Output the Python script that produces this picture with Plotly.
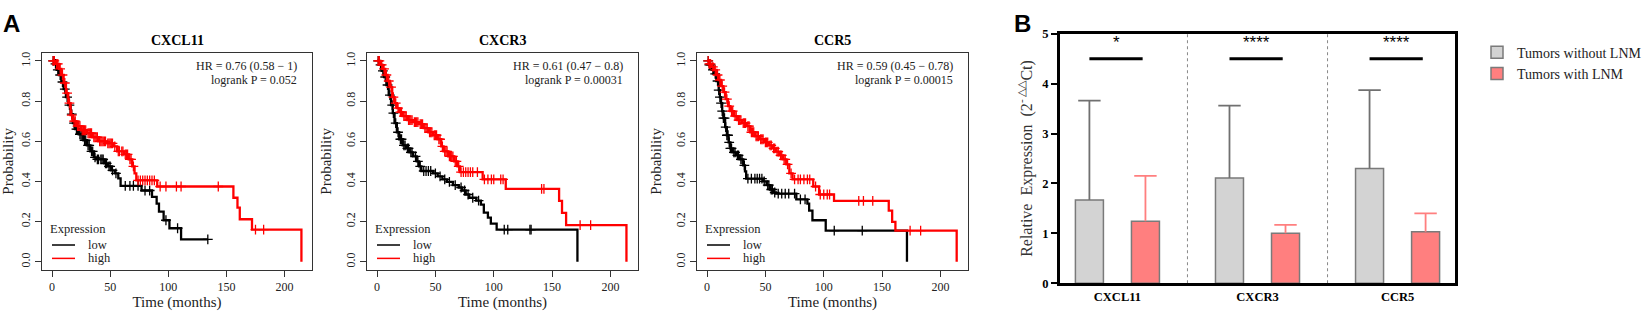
import numpy as np
import plotly.graph_objects as go

W, H = 1648, 317

# ---------------- Panel A data (Kaplan-Meier curves) ----------------
cxcl11_low_t = [0, 2, 4, 6, 8, 10, 12, 14, 16, 18, 20, 23, 27, 30, 33, 36, 38, 45, 48, 51, 54, 57, 59, 77, 86, 90, 92, 96, 101, 111, 134]
cxcl11_low_s = [1, 0.985, 0.955, 0.93, 0.895, 0.86, 0.82, 0.78, 0.735, 0.69, 0.66, 0.635, 0.605, 0.58, 0.55, 0.52, 0.51, 0.49, 0.475, 0.455, 0.44, 0.415, 0.378, 0.355, 0.323, 0.29, 0.25, 0.207, 0.167, 0.112, 0.112]
cxcl11_low_cens = [1, 3, 5, 7, 9, 11, 13, 15, 17, 19, 21, 22, 24, 25, 26, 28, 29, 31, 32, 34, 35, 37, 39, 40, 42, 43, 44, 46, 47, 49, 50, 52, 55, 63, 67, 70, 74, 80, 84, 98, 108, 134]
cxcl11_high_t = [0, 3, 6, 8, 10, 12, 14, 16, 18, 21, 25, 30, 35, 40, 47, 53, 56, 62, 66, 69, 71, 72.5, 90.5, 156, 159.5, 161.5, 172, 214.5]
cxcl11_high_s = [1, 0.985, 0.96, 0.93, 0.89, 0.84, 0.79, 0.73, 0.70, 0.675, 0.655, 0.64, 0.62, 0.60, 0.59, 0.575, 0.55, 0.535, 0.51, 0.475, 0.44, 0.405, 0.375, 0.319, 0.27, 0.212, 0.16, 0]
cxcl11_high_cens = [1, 2, 4, 5, 7, 9, 11, 13, 15, 17, 19, 20, 22, 23, 24, 26, 27, 28, 29, 31, 32, 33, 34, 36, 37, 38, 39, 41, 42, 43, 44, 45, 46, 48, 49, 50, 51, 52, 54, 57, 58, 60, 61, 63, 64, 65, 67, 68, 70, 74, 76, 78, 80, 82, 84, 86, 88, 93, 98, 107, 111, 143, 175, 182]

cxcr3_low_t = [0, 2, 4, 6, 8, 10, 12, 13.5, 15, 17, 19, 22, 25, 28, 31, 34, 36, 38, 48, 52, 56, 60, 65, 70, 73, 76, 79, 85, 89, 91.5, 95, 97.5, 102.5, 171.7]
cxcr3_low_s = [1, 0.98, 0.95, 0.92, 0.88, 0.83, 0.78, 0.74, 0.69, 0.645, 0.61, 0.58, 0.565, 0.545, 0.525, 0.50, 0.475, 0.452, 0.44, 0.425, 0.41, 0.398, 0.382, 0.37, 0.355, 0.335, 0.319, 0.305, 0.285, 0.245, 0.22, 0.19, 0.16, 0]
cxcr3_low_cens = [1, 3, 5, 7, 9, 11, 13, 14, 16, 18, 20, 21, 23, 24, 26, 27, 29, 30, 33, 35, 37, 40, 42, 44, 46, 50, 54, 58, 62, 67, 72, 75, 78, 82, 87, 109, 112, 131, 132]
cxcr3_high_t = [0, 3, 5, 7, 9, 11, 13, 15, 17, 19, 22, 26, 31, 36, 40, 44, 48, 52, 55, 57, 61, 66, 69, 71, 90.5, 110.3, 156, 158.5, 162, 213.7]
cxcr3_high_s = [1, 0.98, 0.96, 0.93, 0.90, 0.87, 0.82, 0.79, 0.765, 0.745, 0.725, 0.705, 0.695, 0.685, 0.665, 0.645, 0.63, 0.61, 0.575, 0.55, 0.525, 0.50, 0.475, 0.446, 0.41, 0.363, 0.303, 0.244, 0.183, 0]
cxcr3_high_cens = [1, 2, 4, 6, 8, 10, 12, 14, 16, 18, 20, 21, 23, 24, 25, 27, 28, 29, 30, 32, 33, 34, 35, 37, 38, 39, 41, 42, 43, 45, 46, 47, 49, 50, 51, 53, 54, 56, 58, 59, 60, 62, 63, 64, 65, 67, 68, 70, 72, 74, 76, 78, 80, 82, 86, 92, 95, 98, 100, 106, 108, 141, 143, 174, 183]

ccr5_low_t = [0, 2, 4, 6, 8, 10, 11, 12, 13, 14, 15.5, 17, 18.5, 20, 22, 25, 28, 31, 32.5, 33.5, 48, 51, 54, 57, 59, 76.5, 86, 87.5, 90.3, 101.7, 171.3]
ccr5_low_s = [1, 0.98, 0.955, 0.935, 0.90, 0.855, 0.82, 0.79, 0.75, 0.715, 0.67, 0.63, 0.595, 0.565, 0.545, 0.53, 0.51, 0.48, 0.45, 0.414, 0.40, 0.382, 0.36, 0.345, 0.339, 0.311, 0.29, 0.255, 0.207, 0.155, 0]
ccr5_low_cens = [1, 2, 3, 5, 7, 9, 10, 11, 12, 13, 14, 15, 16, 17, 18, 19, 20, 21, 23, 24, 26, 27, 29, 30, 32, 35, 38, 41, 43, 45, 47, 49, 52, 53, 55, 56, 58, 61, 64, 67, 70, 75, 80, 84, 109, 133]
ccr5_high_t = [0, 2, 4, 6, 8, 10, 12, 14, 16, 18, 20, 23, 26, 30, 34, 37, 41, 45, 49, 53, 56, 59, 62, 65, 68, 70.5, 73.3, 91, 96, 108.8, 155.7, 158.6, 161.4, 213.9]
ccr5_high_s = [1, 0.985, 0.97, 0.955, 0.93, 0.905, 0.875, 0.845, 0.81, 0.775, 0.75, 0.725, 0.705, 0.69, 0.675, 0.645, 0.625, 0.61, 0.595, 0.58, 0.565, 0.548, 0.53, 0.51, 0.485, 0.44, 0.41, 0.375, 0.335, 0.303, 0.255, 0.199, 0.155, 0]
ccr5_high_cens = [1, 2, 3, 5, 7, 9, 11, 13, 15, 17, 19, 21, 22, 24, 25, 27, 28, 29, 31, 32, 33, 35, 36, 38, 39, 40, 42, 43, 44, 46, 47, 48, 50, 51, 52, 54, 55, 57, 58, 60, 61, 63, 64, 66, 67, 69, 72, 75, 78, 80, 83, 86, 88, 93, 97, 100, 103, 105, 130, 134, 142, 174, 183]

km_titles = ["CXCL11", "CXCR3", "CCR5"]
km_hr = ["HR = 0.76 (0.58 \u2212 1)", "HR = 0.61 (0.47 \u2212 0.8)", "HR = 0.59 (0.45 \u2212 0.78)"]
km_p = ["logrank P = 0.052", "logrank P = 0.00031", "logrank P = 0.00015"]
km_xticks = [0, 50, 100, 150, 200]
km_yticks = [0.0, 0.2, 0.4, 0.6, 0.8, 1.0]
group_names = ["low", "high"]
group_colors = ["black", "#ff0000"]

# ---------------- Panel B data (bar chart) ----------------
b_categories = ["CXCL11", "CXCR3", "CCR5"]
b_series = ["Tumors without LNM", "Tumors with LNM"]
b_without_mean = [1.67, 2.11, 2.30]
b_without_sd = [1.99, 1.45, 1.57]
b_with_mean = [1.24, 1.00, 1.03]
b_with_sd = [0.91, 0.17, 0.37]
b_sig = ["*", "****", "****"]
b_sig_y = 4.5

SERIF = "Liberation Serif, Times New Roman, serif"
SANS = "Liberation Sans, Arial, sans-serif"


def dx(px):
    return px / W


def dy(py):
    return 1 - py / H


def s_at(t_arr, s_arr, times):
    t_arr = np.asarray(t_arr, float)
    s_arr = np.asarray(s_arr, float)
    idx = np.searchsorted(t_arr, np.asarray(times, float), side="right") - 1
    return s_arr[idx]


km_data = [
    [(cxcl11_low_t, cxcl11_low_s, cxcl11_low_cens), (cxcl11_high_t, cxcl11_high_s, cxcl11_high_cens)],
    [(cxcr3_low_t, cxcr3_low_s, cxcr3_low_cens), (cxcr3_high_t, cxcr3_high_s, cxcr3_high_cens)],
    [(ccr5_low_t, ccr5_low_s, ccr5_low_cens), (ccr5_high_t, ccr5_high_s, ccr5_high_cens)],
]
panel_px = [(42, 312), (367, 638), (697, 968)]
km_top, km_bot = 48, 275

fig = go.Figure()
annotations = []
shapes = []
layout_axes = {}

for i in range(3):
    n = i + 1
    xa = "x" if n == 1 else f"x{n}"
    ya = "y" if n == 1 else f"y{n}"
    for g in range(2):
        t, s, c = km_data[i][g]
        fig.add_trace(go.Scatter(
            x=t, y=s, mode="lines", line=dict(color=group_colors[g], width=2.3, shape="hv"),
            xaxis=xa, yaxis=ya, showlegend=False, hoverinfo="skip"))
        fig.add_trace(go.Scatter(
            x=c, y=s_at(t, s, c), mode="markers",
            marker=dict(symbol="cross-thin", size=7, line=dict(color=group_colors[g], width=1.3)),
            xaxis=xa, yaxis=ya, showlegend=False, hoverinfo="skip"))
    x0, x1 = panel_px[i]
    xkey = "xaxis" if n == 1 else f"xaxis{n}"
    ykey = "yaxis" if n == 1 else f"yaxis{n}"
    layout_axes[xkey] = dict(
        domain=[dx(x0), dx(x1)], anchor=ya, range=[-8.6, 223.6],
        showline=True, mirror=True, linecolor="#333", linewidth=1,
        ticks="outside", ticklen=6, tickcolor="#333", tickvals=km_xticks,
        showgrid=False, zeroline=False,
        tickfont=dict(family=SERIF, size=12, color="#222"),
        title=dict(text="Time (months)", font=dict(family=SERIF, size=15, color="#222"), standoff=3),
    )
    layout_axes[ykey] = dict(
        domain=[dy(km_bot), dy(km_top)], anchor=xa, range=[-0.04, 1.04],
        showline=True, mirror=True, linecolor="#333", linewidth=1,
        ticks="outside", ticklen=6, tickcolor="#333", tickvals=km_yticks, tickformat=".1f",
        tickangle=-90, showgrid=False, zeroline=False,
        tickfont=dict(family=SERIF, size=12, color="#222"),
        title=dict(text="Probability", font=dict(family=SERIF, size=15, color="#222"), standoff=8),
    )
    dref_x = "x domain" if n == 1 else f"x{n} domain"
    dref_y = "y domain" if n == 1 else f"y{n} domain"
    pw = x1 - x0
    ph = km_bot - km_top
    annotations.append(dict(text=f"<b>{km_titles[i]}</b>", x=0.5, y=dy(35), xref=dref_x, yref="paper",
                            showarrow=False, font=dict(family=SERIF, size=14, color="black"),
                            xanchor="center", yanchor="middle"))
    annotations.append(dict(text=km_hr[i], x=1 - 13 / pw, y=(km_bot - 62) / ph, xref=dref_x, yref=dref_y,
                            showarrow=False, font=dict(family=SERIF, size=12, color="#222"),
                            xanchor="right", yanchor="middle"))
    annotations.append(dict(text=km_p[i], x=1 - 13 / pw, y=(km_bot - 76) / ph, xref=dref_x, yref=dref_y,
                            showarrow=False, font=dict(family=SERIF, size=12, color="#222"),
                            xanchor="right", yanchor="middle"))
    annotations.append(dict(text="Expression", x=6 / pw, y=(km_bot - 232) / ph, xref=dref_x, yref=dref_y,
                            showarrow=False, font=dict(family=SERIF, size=12.5, color="#222"),
                            xanchor="left", yanchor="middle"))
    for g, yy in enumerate([249, 263]):
        shapes.append(dict(type="line", xref=dref_x, yref=dref_y, x0=10 / pw, x1=33 / pw,
                           y0=(km_bot - yy) / ph, y1=(km_bot - yy) / ph,
                           line=dict(color=group_colors[g], width=1.5)))
        annotations.append(dict(text=group_names[g], x=44 / pw, y=(km_bot - yy) / ph, xref=dref_x, yref=dref_y,
                                showarrow=False, font=dict(family=SERIF, size=12.5, color="#222"),
                                xanchor="left", yanchor="middle"))

# ---------------- Panel B ----------------
xc = np.arange(len(b_categories))
offset = 0.2
bar_fill = ["#d3d3d3", "#ff7f7f"]
err_col = ["#707070", "#ff7f7f"]
means = [b_without_mean, b_with_mean]
sds = [b_without_sd, b_with_sd]
for g in range(2):
    xpos = xc - offset if g == 0 else xc + offset
    fig.add_trace(go.Bar(
        x=xpos, y=means[g], width=0.2, name=b_series[g],
        marker=dict(color=bar_fill[g], line=dict(color="#7a7a7a", width=1.5)),
        error_y=dict(type="data", array=sds[g], arrayminus=[0] * len(sds[g]), symmetric=False,
                     width=0, thickness=1.8, color=err_col[g]),
        xaxis="x4", yaxis="y4", hoverinfo="skip"))
for g in range(2):
    xpos = xc - offset if g == 0 else xc + offset
    fig.add_trace(go.Scatter(
        x=xpos, y=np.array(means[g]) + np.array(sds[g]), mode="markers",
        marker=dict(symbol="line-ew", size=16, line=dict(color=err_col[g], width=1.8)),
        xaxis="x4", yaxis="y4", showlegend=False, hoverinfo="skip"))

for k in range(len(b_categories)):
    shapes.append(dict(type="line", xref="x4", yref="y4", x0=xc[k] - 0.2, x1=xc[k] + 0.18,
                       y0=b_sig_y, y1=b_sig_y, line=dict(color="black", width=3)))
    annotations.append(dict(text=b_sig[k], x=xc[k] - 0.01, y=b_sig_y + 0.1, xref="x4", yref="y4",
                            showarrow=False, font=dict(family=SANS, size=17, color="black"),
                            xanchor="center", yanchor="bottom"))
for k in range(len(b_categories) - 1):
    shapes.append(dict(type="line", xref="x4", yref="y4 domain", x0=xc[k] + 0.5, x1=xc[k] + 0.5,
                       y0=0, y1=1, line=dict(color="#888", width=1, dash="dot"), layer="below"))

layout_axes["xaxis4"] = dict(
    domain=[dx(1060), dx(1455)], anchor="y4", range=[-0.41, 2.41],
    showline=True, mirror=True, linecolor="black", linewidth=3,
    ticks="", tickvals=list(xc), ticktext=[f"<b>{c}</b>" for c in b_categories],
    tickfont=dict(family=SERIF, size=12.5, color="black"), showgrid=False, zeroline=False,
)
layout_axes["yaxis4"] = dict(
    domain=[dy(289), dy(28)], anchor="x4", range=[0, 5],
    showline=True, mirror=True, linecolor="black", linewidth=3,
    ticks="outside", ticklen=6, tickwidth=2, tickcolor="black",
    tickvals=[0, 1, 2, 3, 4, 5], ticktext=[f"<b>{v}</b>" for v in range(6)],
    tickfont=dict(family=SERIF, size=12.5, color="black"), showgrid=False, zeroline=False,
    title=dict(text="Relative  Expression  (2<sup>- \u25b3\u25b3</sup>Ct)",
               font=dict(family=SERIF, size=16, color="#333"), standoff=6),
)

annotations.append(dict(text="<b>A</b>", x=dx(1), y=dy(17), xref="paper", yref="paper", showarrow=False,
                        font=dict(family=SANS, size=24, color="black"), xanchor="left", yanchor="middle"))
annotations.append(dict(text="<b>B</b>", x=dx(1012), y=dy(17), xref="paper", yref="paper", showarrow=False,
                        font=dict(family=SANS, size=24, color="black"), xanchor="left", yanchor="middle"))

fig.update_layout(
    width=W, height=H, margin=dict(l=0, r=0, t=0, b=0),
    paper_bgcolor="white", plot_bgcolor="white",
    barmode="overlay", showlegend=True,
    legend=dict(x=dx(1477), y=dy(31), xanchor="left", yanchor="top", bgcolor="rgba(0,0,0,0)",
                font=dict(family=SERIF, size=14, color="#222"), tracegroupgap=0),
    annotations=annotations, shapes=shapes,
    **layout_axes,
)

fig.write_html("out.html", config={"displayModeBar": False},
               post_script="document.body.style.margin='0';document.body.style.overflow='hidden';")
